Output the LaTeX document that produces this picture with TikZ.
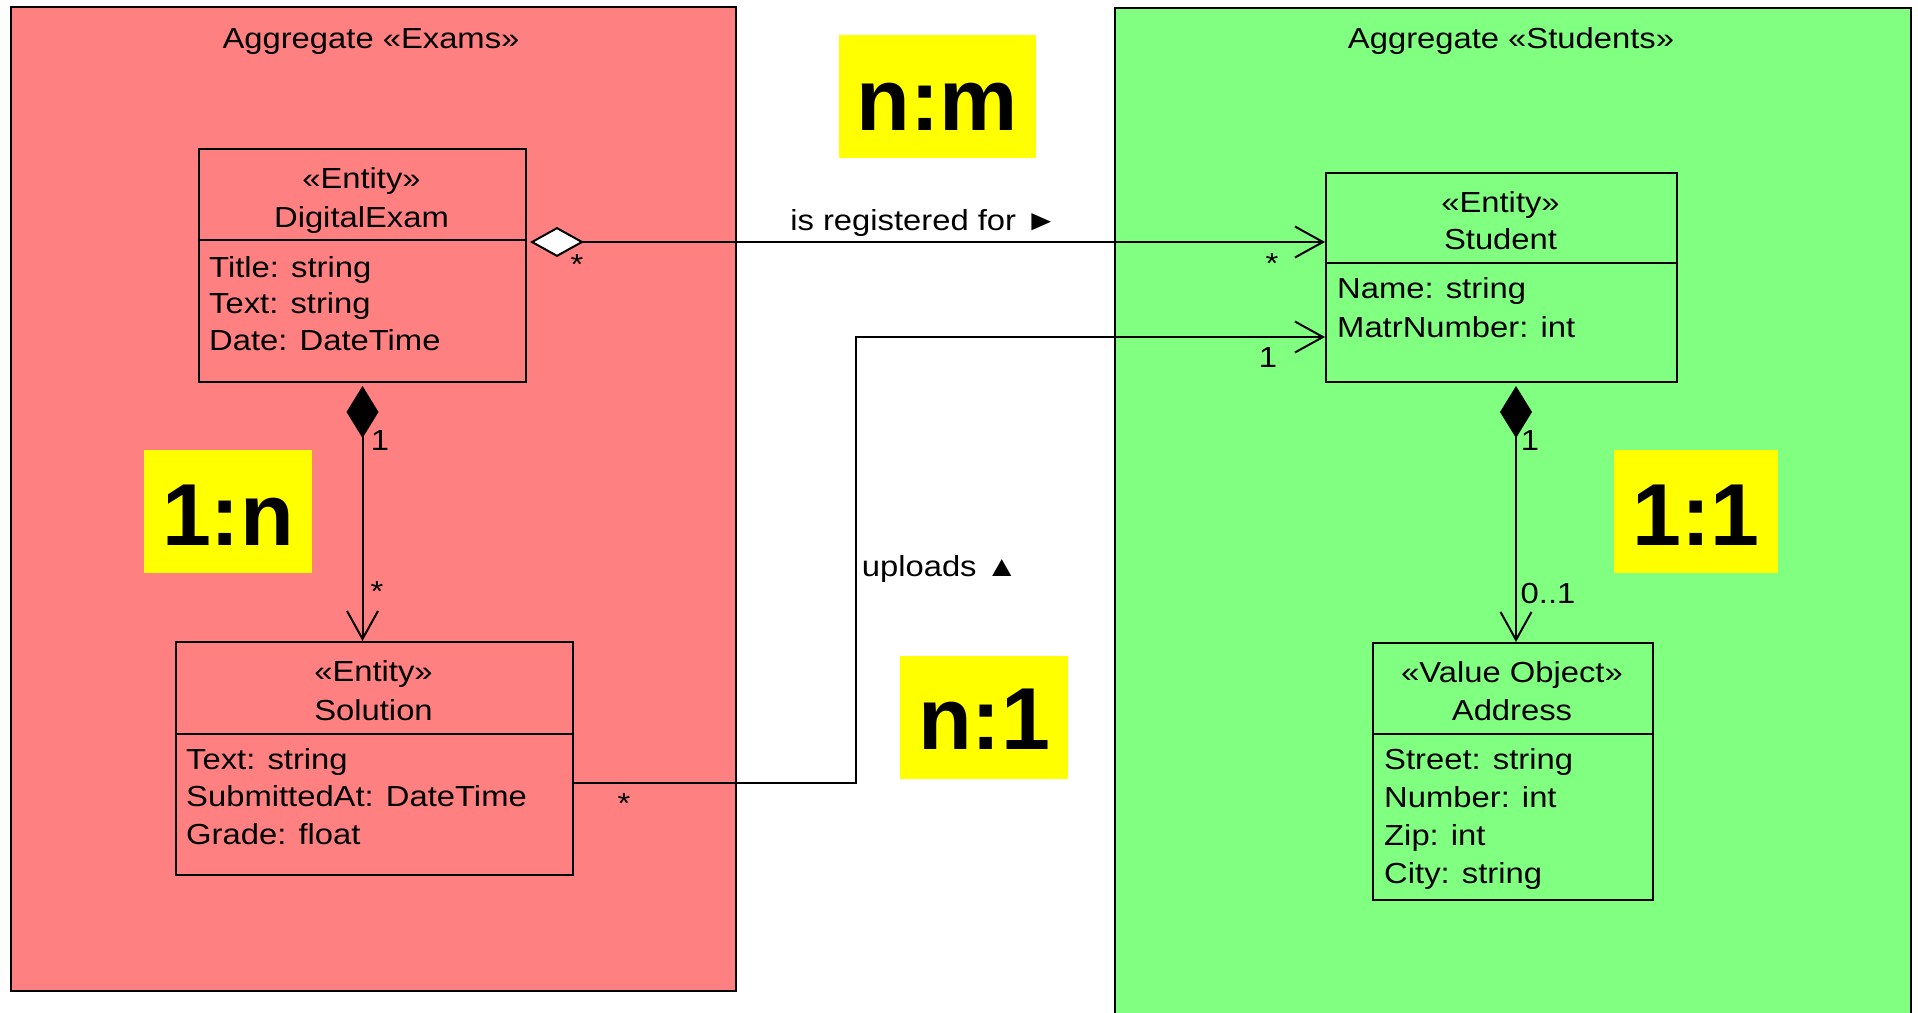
\documentclass[tikz,border=0pt]{standalone}
\usepackage{fontspec}
\setmainfont{Liberation Sans}[FakeStretch=1.13]
\newfontfamily\bigfont{Liberation Sans}
\usetikzlibrary{arrows.meta}
\definecolor{exred}{HTML}{FF8080}
\definecolor{stgreen}{HTML}{80FF80}
\definecolor{hiyel}{HTML}{FFFF00}
\begin{document}
\begin{tikzpicture}[x=1pt,y=-1pt,
  grp/.style={draw=black,line width=2pt,inner sep=0pt,anchor=north west},
  cls/.style={draw=black,line width=2pt,inner sep=0pt,anchor=north west},
  lbl/.style={inner sep=0pt,anchor=base,font=\fontsize{29}{35}\selectfont},
  attr/.style={lbl,anchor=base west},
  yel/.style={fill=hiyel,inner sep=0pt,anchor=north west,minimum height=123pt},
  big/.style={inner sep=0pt,anchor=base,font=\bigfont\bfseries\fontsize{88}{100}\selectfont},
  conn/.style={line width=2pt},
  barb/.tip={Straight Barb[length=28pt,width=31pt]}
]
\useasboundingbox (0,0) rectangle (1918,1012);
\clip (0,0) rectangle (1918,1012);

% aggregates
\node[grp,fill=exred,minimum width=725pt,minimum height=984pt] (exams) at (10,6) {};
\node[grp,fill=stgreen,minimum width=796pt,minimum height=1030pt] (students) at (1114,7) {};
\node[lbl] (texams) at (371,48) {Aggregate «Exams»};
\node[lbl] (tstud) at (1511,48) {Aggregate «Students»};

% highlight labels
\node[yel,minimum width=197pt] (ynm) at (839,35) {};
\node[big] (tnm) at (937.5,130) {n:m};
\node[yel,minimum width=168pt] (y1n) at (144,450) {};
\node[big] (t1n) at (228,545) {1:n};
\node[yel,minimum width=164pt] (y11) at (1614,450) {};
\node[big] (t11) at (1696,545) {1:1};
\node[yel,minimum width=168pt] (yn1) at (900,656) {};
\node[big] (tn1) at (984,749) {n:1};

% DigitalExam
\node[cls,minimum width=327pt,minimum height=233pt] (de) at (198,148) {};
\draw[line width=2pt] ([yshift=-92pt]de.north west) -- ([yshift=-92pt]de.north east);
\node[lbl] (de1) at (361.5,188) {«Entity»};
\node[lbl] (de2) at (361.5,227) {DigitalExam};
\node[attr] (de3) at (209,277) {Title: string};
\node[attr] (de4) at (209,313) {Text: string};
\node[attr] (de5) at (209,350) {Date: DateTime};

% Solution
\node[cls,minimum width=397pt,minimum height=233pt] (sol) at (175,641) {};
\draw[line width=2pt] ([yshift=-93pt]sol.north west) -- ([yshift=-93pt]sol.north east);
\node[lbl] (so1) at (373.5,681) {«Entity»};
\node[lbl] (so2) at (373.5,720) {Solution};
\node[attr] (so3) at (186,769) {Text: string};
\node[attr] (so4) at (186,806) {SubmittedAt: DateTime};
\node[attr] (so5) at (186,844) {Grade: float};

% Student
\node[cls,minimum width=351pt,minimum height=209pt] (stu) at (1325,172) {};
\draw[line width=2pt] ([yshift=-91pt]stu.north west) -- ([yshift=-91pt]stu.north east);
\node[lbl] (st1) at (1500.5,212) {«Entity»};
\node[lbl] (st2) at (1500.5,249) {Student};
\node[attr] (st3) at (1337,298) {Name: string};
\node[attr] (st4) at (1337,337) {MatrNumber: int};

% Address
\node[cls,minimum width=280pt,minimum height=257pt] (adr) at (1372,642) {};
\draw[line width=2pt] ([yshift=-92pt]adr.north west) -- ([yshift=-92pt]adr.north east);
\node[lbl] (ad1) at (1512,682) {«Value Object»};
\node[lbl] (ad2) at (1512,720) {Address};
\node[attr] (ad3) at (1384,769) {Street: string};
\node[attr] (ad4) at (1384,807) {Number: int};
\node[attr] (ad5) at (1384,845) {Zip: int};
\node[attr] (ad6) at (1384,883) {City: string};

% connectors
\draw[conn,{Diamond[fill=white,length=54pt,width=30pt]}-barb]
  ([xshift=3pt,yshift=-94pt]de.north east) -- ([yshift=-70pt]stu.north west);
\node[lbl] (regl) at (924,230) {is registered for ►};
\node[lbl] (m1) at (577,274) {*};
\node[lbl] (m2) at (1272,273) {*};

\draw[conn,{Diamond[length=52pt,width=32pt]}-barb]
  ([yshift=-3pt]de.south) -- (de.south |- sol.north);
\node[lbl] (m3) at (380,450) {1};
\node[lbl] (m4) at (377,601) {*};

\draw[conn,{Diamond[length=52pt,width=32pt]}-barb]
  ([xshift=14.5pt,yshift=-3pt]stu.south) -- ([xshift=3pt]adr.north);
\node[lbl] (m5) at (1530,450) {1};
\node[lbl] (m6) at (1548,603) {0..1};

\coordinate (bend) at (856,560);
\draw[conn,-barb]
  ([yshift=-142pt]sol.north east) -| (bend) |- ([yshift=-165pt]stu.north west);
\node[lbl] (upl) at (940,576) {uploads ▲};
\node[lbl] (m7) at (624,813) {*};
\node[lbl] (m8) at (1268,367) {1};
\end{tikzpicture}
\end{document}
